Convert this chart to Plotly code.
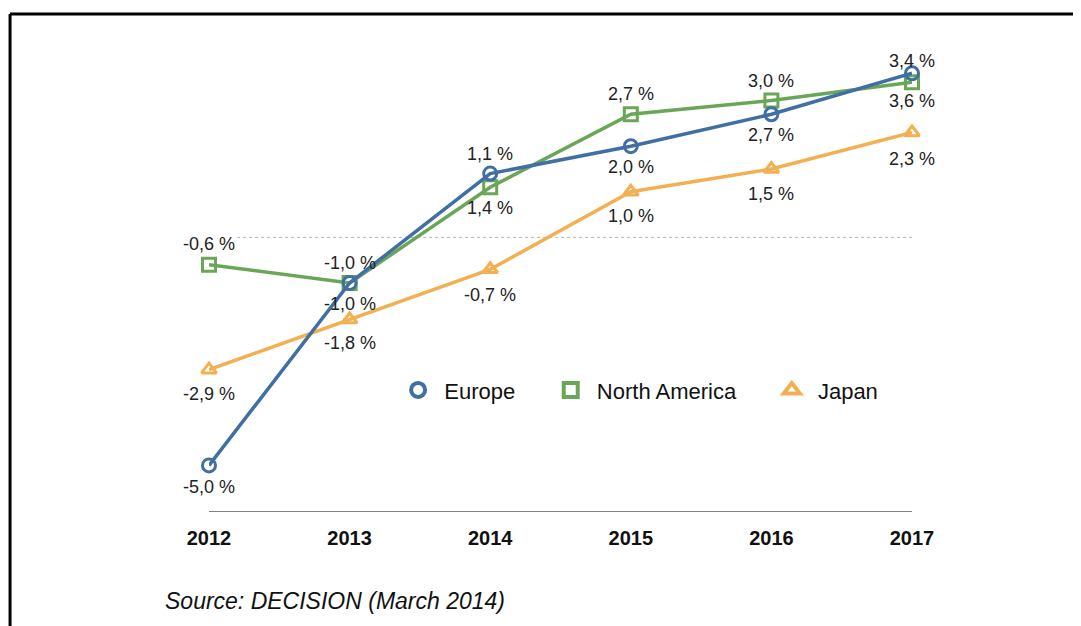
import plotly.graph_objects as go

years = [2012, 2013, 2014, 2015, 2016, 2017]
year_labels = ["2012", "2013", "2014", "2015", "2016", "2017"]

europe = [-5.0, -1.0, 1.4, 2.0, 2.7, 3.6]
north_america = [-0.6, -1.0, 1.1, 2.7, 3.0, 3.4]
japan = [-2.9, -1.8, -0.7, 1.0, 1.5, 2.3]

europe_text = ["-5,0 %", "-1,0 %", "1,1 %", "2,0 %", "2,7 %", "3,4 %"]
na_text = ["-0,6 %", "-1,0 %", "1,4 %", "2,7 %", "3,0 %", "3,6 %"]
japan_text = ["-2,9 %", "-1,8 %", "-0,7 %", "1,0 %", "1,5 %", "2,3 %"]

# label placement: pixel shift of each label relative to its point
europe_shift = [-22, 20, 20, -21, -21, 12]
na_shift = [21, -21, -21, 20, 20, -19]
japan_shift = [-24, -24, -26, -24, -25, -26]

BLUE = "#3f6fa3"
GREEN = "#6aa657"
ORANGE = "#f2b052"
FONT = "Liberation Sans"
NB = "\u00a0"

fig = go.Figure()

series = [
    ("Japan", japan, ORANGE, "triangle-up-open"),
    ("North America", north_america, GREEN, "square-open"),
    ("Europe", europe, BLUE, "circle-open"),
]

for name, vals, col, sym in series:
    fig.add_trace(go.Scatter(
        x=years, y=vals, mode="lines+markers", name=name,
        line=dict(color=col, width=3.5),
        marker=dict(symbol=sym, size=13, color=col, line=dict(width=3, color=col)),
        cliponaxis=False, showlegend=False, hoverinfo="skip",
    ))

for name, col, sym in [(NB + "Europe" + NB * 5, BLUE, "circle-open"),
                       (NB + "North America" + NB * 5, GREEN, "square-open"),
                       (NB + "Japan", ORANGE, "triangle-up-open")]:
    fig.add_trace(go.Scatter(
        x=[None], y=[None], mode="markers", name=name,
        marker=dict(symbol=sym, size=14, color=col, line=dict(width=4, color=col)),
        showlegend=True,
    ))

annotations = []
for vals, txt, shifts in [(europe, europe_text, europe_shift),
                          (north_america, na_text, na_shift),
                          (japan, japan_text, japan_shift)]:
    for xv, yv, t, s in zip(years, vals, txt, shifts):
        annotations.append(dict(
            x=xv, y=yv, xref="x", yref="y", text=t, showarrow=False,
            xanchor="center", yanchor="middle", yshift=s,
            font=dict(family=FONT, size=18, color="#222222")))

annotations.append(dict(
    text="<i>Source: DECISION (March 2014)</i>", xref="paper", yref="paper",
    x=-0.0654, y=-0.197, xanchor="left", yanchor="middle", showarrow=False,
    font=dict(family=FONT, size=23, color="#111111")))

fig.update_layout(
    width=1073, height=618,
    margin=dict(l=201, r=169, t=47, b=115),
    paper_bgcolor="white", plot_bgcolor="white",
    font=dict(family=FONT, color="#111111"),
    showlegend=True,
    legend=dict(orientation="h", x=0.269, y=0.265, xanchor="left", yanchor="middle",
                font=dict(family=FONT, size=22, color="#111111"),
                bgcolor="rgba(0,0,0,0)", traceorder="normal", itemclick=False),
    xaxis=dict(range=[2012, 2017], tickvals=years,
               ticktext=["<b>" + t + "</b>" for t in year_labels],
               tickfont=dict(family=FONT, size=20, color="#111111"),
               showgrid=False, zeroline=False, showline=True,
               linecolor="#808080", linewidth=1,
               ticks="outside", ticklen=9, tickcolor="rgba(0,0,0,0)"),
    yaxis=dict(range=[-6, 4], visible=False, showgrid=False, zeroline=False),
    shapes=[
        dict(type="line", xref="paper", yref="y", x0=0.04, x1=1, y0=0, y1=0,
             line=dict(color="#b5b5b5", width=1, dash="dot"), layer="below"),
        dict(type="line", xref="paper", yref="paper", x0=-0.283, x1=1.3,
             y0=1.0899, y1=1.0899, line=dict(color="black", width=3)),
        dict(type="line", xref="paper", yref="paper", x0=-0.283, x1=-0.283,
             y0=1.0899, y1=-0.3, line=dict(color="black", width=3)),
    ],
    annotations=annotations,
)

fig.write_html("out.html")
